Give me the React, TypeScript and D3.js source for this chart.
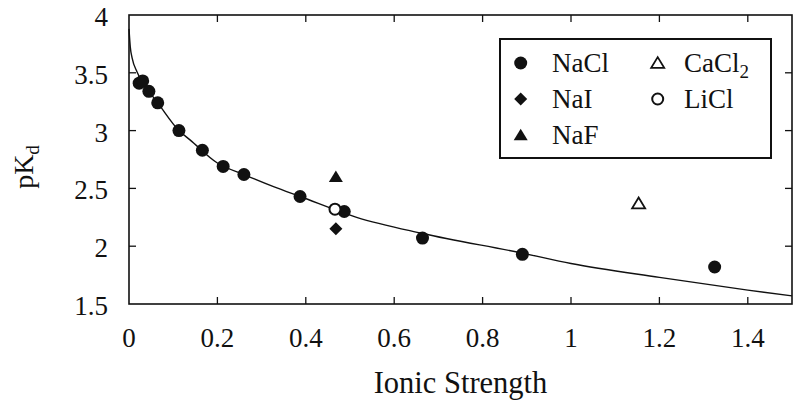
import React from 'react';
import * as d3 from 'd3';

// NaCl series
const naclI = [0.023, 0.031, 0.045, 0.065, 0.113, 0.166, 0.213, 0.26, 0.387, 0.487, 0.664, 0.89, 1.325];
const naclPK = [3.41, 3.43, 3.34, 3.24, 3.0, 2.83, 2.69, 2.62, 2.43, 2.3, 2.07, 1.93, 1.82];
// other salts
const naiI = [0.468];
const naiPK = [2.15];
const nafI = [0.468];
const nafPK = [2.6];
const liclI = [0.466];
const liclPK = [2.32];
const cacl2I = [1.153];
const cacl2PK = [2.37];
// fitted curve
const fitI = [0, 0.003, 0.007, 0.018, 0.03, 0.045, 0.065, 0.113, 0.138, 0.2, 0.26, 0.327, 0.387, 0.515, 0.664, 0.89, 1.0, 1.2, 1.4, 1.5];
const fitPK = [3.88, 3.72, 3.63, 3.51, 3.42, 3.34, 3.24, 3.0, 2.92, 2.72, 2.62, 2.515, 2.43, 2.25, 2.11, 1.94, 1.85, 1.73, 1.62, 1.57];

const xTicks = [0, 0.2, 0.4, 0.6, 0.8, 1, 1.2, 1.4];
const yTicks = [1.5, 2, 2.5, 3, 3.5, 4];

const W = 800, H = 406;
const left = 129, right = 792, top = 15, bottom = 304;
const ink = '#111';
const font = '"Liberation Serif", "DejaVu Serif", serif';

const zip = (a: number[], b: number[]) => a.map((v, i) => [v, b[i]] as [number, number]);

const tri = (r: number) => `M0,${-r * 0.9}L${r},${r * 0.75}L${-r},${r * 0.75}Z`;
const diamond = (r: number) => `M0,${-r}L${r},0L0,${r}L${-r},0Z`;

const Marker = ({ kind, x, y }: { kind: string; x: number; y: number }) => {
	const t = `translate(${x},${y})`;
	if ( kind === 'nacl' ) return <circle cx={x} cy={y} r={6.5} fill={ink} />;
	if ( kind === 'licl' ) return <circle cx={x} cy={y} r={5.5} fill="#fff" stroke={ink} strokeWidth={2} />;
	if ( kind === 'nai' ) return <path transform={t} d={diamond(6.5)} fill={ink} />;
	if ( kind === 'naf' ) return <path transform={t} d={tri(7)} fill={ink} />;
	return <path transform={t} d={tri(6.5)} fill="#fff" stroke={ink} strokeWidth={1.8} />;
};

const App = () => {
	const x = d3.scaleLinear().domain([0, 1.5]).range([left, right]);
	const y = d3.scaleLinear().domain([1.5, 4]).range([bottom, top]);
	const line = d3
		.line<[number, number]>()
		.x((d) => x(d[0]))
		.y((d) => y(d[1]))
		.curve(d3.curveMonotoneX);

	const series: [string, number[], number[]][] = [
		['nacl', naclI, naclPK],
		['nai', naiI, naiPK],
		['naf', nafI, nafPK],
		['licl', liclI, liclPK],
		['cacl2', cacl2I, cacl2PK],
	];

	const legend: [string, string, number, number][] = [
		['nacl', 'NaCl', 0, 0],
		['nai', 'NaI', 0, 1],
		['naf', 'NaF', 0, 2],
		['cacl2', 'CaCl', 1, 0],
		['licl', 'LiCl', 1, 1],
	];
	const lgX = [520.7, 657.7];
	const lgTx = [552, 684];
	const lgY = [63, 99, 135];

	return (
		<svg width={W} height={H} style={{ position: 'absolute', left: 0, top: 0, background: '#fff' }} fontFamily={font}>
			<rect width={W} height={H} fill="#fff" />
			{/* curve */}
			<path d={line(zip(fitI, fitPK)) || ''} fill="none" stroke={ink} strokeWidth={1.4} />

			{/* ticks, mirrored */}
			{xTicks.slice(1).map((t) => (
				<g key={'xt' + t} stroke={ink} strokeWidth={1.3}>
					<line x1={x(t)} x2={x(t)} y1={bottom} y2={bottom - 7} />
					<line x1={x(t)} x2={x(t)} y1={top} y2={top + 7} />
				</g>
			))}
			{yTicks.slice(1, -1).map((t) => (
				<g key={'yt' + t} stroke={ink} strokeWidth={1.3}>
					<line x1={left} x2={left + 7} y1={y(t)} y2={y(t)} />
					<line x1={right} x2={right - 7} y1={y(t)} y2={y(t)} />
				</g>
			))}
			<rect x={left} y={top} width={right - left} height={bottom - top} fill="none" stroke={ink} strokeWidth={1.6} />

			{/* tick labels */}
			{xTicks.map((t) => (
				<text key={'xl' + t} x={x(t)} y={346.5} textAnchor="middle" fontSize={27} fill={ink}>
					{String(t)}
				</text>
			))}
			{yTicks.map((t) => (
				<text key={'yl' + t} x={108} y={y(t) + 11} textAnchor="end" fontSize={27} fill={ink}>
					{String(t)}
				</text>
			))}

			{/* axis labels */}
			<text x={(left + right) / 2} y={393} textAnchor="middle" fontSize={30.5} fill={ink}>
				Ionic Strength
			</text>
			<text transform={`translate(33,167) rotate(-90)`} textAnchor="middle" fontSize={28} fill={ink}>
				pK<tspan fontSize={19} dy={6}>d</tspan>
			</text>

			{/* data points */}
			{series.map(([kind, xs, ys]) =>
				xs.map((v, i) => <Marker key={kind + i} kind={kind} x={x(v)} y={y(ys[i])} />)
			)}

			{/* legend */}
			<rect x={500} y={39} width={271} height={119} fill="#fff" stroke={ink} strokeWidth={2} />
			{legend.map(([kind, label, col, row]) => (
				<g key={'lg' + kind}>
					<Marker kind={kind} x={lgX[col]} y={lgY[row]} />
					<text x={lgTx[col]} y={lgY[row] + 9} fontSize={27} fill={ink}>
						{label}
						{kind === 'cacl2' ? <tspan fontSize={19} dy={6}>2</tspan> : null}
					</text>
				</g>
			))}
		</svg>
	);
};

export default App;
